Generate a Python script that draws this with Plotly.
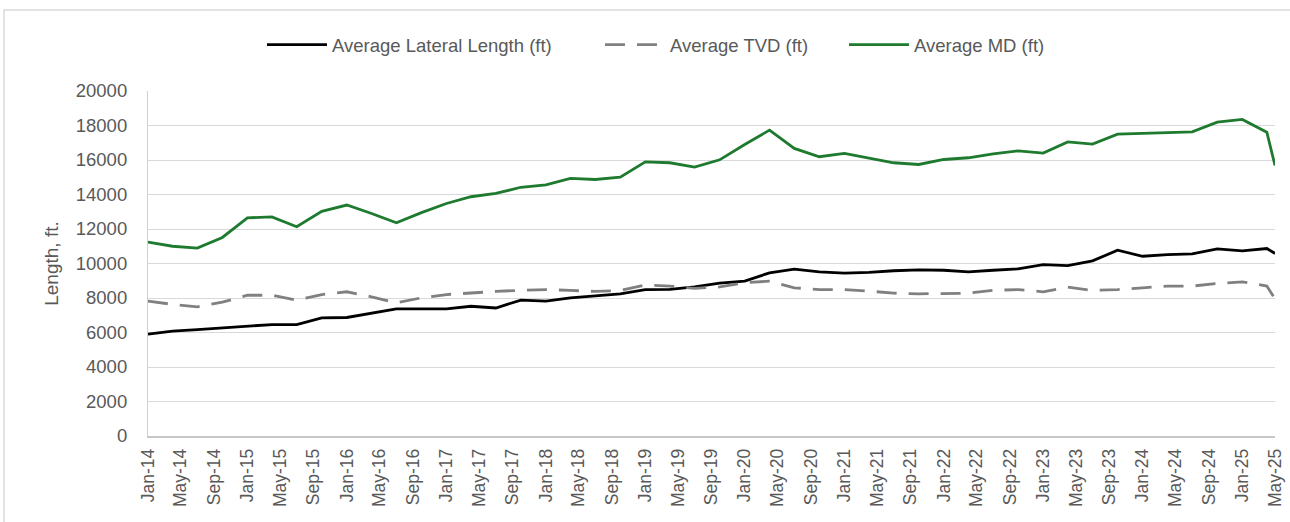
import pandas as pd
import plotly.graph_objects as go

# Quarterly well-geometry averages, Jan-2014 through Apr-2025, plus May-2025
dates = list(pd.date_range("2014-01-01", "2025-04-01", freq="3MS")) + [pd.Timestamp("2025-05-01")]

lateral_length = [
    5900, 6080, 6170, 6270, 6330, 6460, 6460, 6850, 6870, 7100,
    7370, 7370, 7370, 7520, 7420, 7880, 7820, 8010, 8110, 8240,
    8490, 8500, 8650, 8860, 8980, 9460, 9670, 9520, 9440, 9480,
    9580, 9630, 9610, 9520, 9610, 9690, 9940, 9880, 10150, 10770,
    10420, 10520, 10560, 10850, 10730, 10870, 10580,
]
tvd = [
    7820, 7630, 7490, 7760, 8160, 8160, 7870, 8200, 8360, 8070,
    7720, 8010, 8200, 8300, 8380, 8450, 8490, 8440, 8380, 8440,
    8760, 8690, 8560, 8640, 8880, 8980, 8590, 8490, 8490, 8400,
    8280, 8240, 8240, 8280, 8440, 8490, 8360, 8630, 8440, 8490,
    8590, 8690, 8690, 8840, 8940, 8690, 7950,
]
measured_depth = [
    11240, 11000, 10890, 11510, 12650, 12700, 12130, 13020, 13390, 12900,
    12360, 12950, 13480, 13870, 14060, 14420, 14560, 14930, 14870, 15000,
    15890, 15840, 15590, 16010, 16900, 17730, 16670, 16190, 16380, 16110,
    15840, 15740, 16030, 16130, 16360, 16530, 16400, 17050, 16920, 17500,
    17540, 17590, 17630, 18190, 18350, 17610, 15680,
]

# Axis ticks every four months
tick_dates = list(pd.date_range("2014-01-01", "2025-05-01", freq="4MS"))
tick_labels = [d.strftime("%b-%y") for d in tick_dates]
y_ticks = list(range(0, 20001, 2000))
y_labels = [str(v) for v in y_ticks]

label_font = "Liberation Sans, Arial, sans-serif"
text_grey = "#595959"

fig = go.Figure()
fig.add_trace(go.Scatter(
    x=dates, y=lateral_length, mode="lines", name="Average Lateral Length (ft)",
    line=dict(color="#000000", width=2.8), legend="legend",
))
fig.add_trace(go.Scatter(
    x=dates, y=tvd, mode="lines", name="Average TVD (ft)",
    line=dict(color="#808080", width=2.8, dash="20px,12px"), legend="legend2",
))
fig.add_trace(go.Scatter(
    x=dates, y=measured_depth, mode="lines", name="Average MD (ft)",
    line=dict(color="#1e7a2e", width=2.8), legend="legend3",
))


def legend_box(left_px):
    # one legend entry per box, placed along the top of the chart
    return dict(
        orientation="h", xref="container", yref="container",
        x=left_px / 1290, xanchor="left", y=1 - 45 / 522, yanchor="middle",
        font=dict(family=label_font, size=18.5, color=text_grey),
        bgcolor="rgba(0,0,0,0)", itemwidth=60,
    )


fig.update_layout(
    width=1290, height=522,
    margin=dict(l=148, r=15, t=91, b=86, autoexpand=False),
    paper_bgcolor="white", plot_bgcolor="white",
    showlegend=True,
    legend=legend_box(262),
    legend2=legend_box(600),
    legend3=legend_box(844),
    xaxis=dict(
        type="date",
        range=[tick_dates[0], tick_dates[-1]],
        tickmode="array", tickvals=tick_dates, ticktext=tick_labels,
        tickangle=-90,
        tickfont=dict(family=label_font, size=17.5, color=text_grey),
        showgrid=False, zeroline=False,
        showline=True, linecolor="#c8c8c8", linewidth=1.5,
        ticks="", ticklen=0, ticklabelstandoff=4,
    ),
    yaxis=dict(
        range=[0, 20000],
        tickmode="array", tickvals=y_ticks, ticktext=y_labels,
        tickfont=dict(family=label_font, size=18.5, color=text_grey),
        showgrid=True, gridcolor="#d9d9d9", gridwidth=1.2,
        zeroline=False,
        showline=True, linecolor="#d0d0d0", linewidth=1.2,
        ticks="", ticklen=0, ticklabelstandoff=16,
        title=dict(text="Length, ft.", font=dict(family=label_font, size=19, color=text_grey), standoff=12),
    ),
    shapes=[dict(
        type="rect", xref="paper", yref="paper",
        x0=(4 - 148) / 1127, x1=(1300 - 148) / 1127,
        y0=(436 - 530) / 345, y1=(436 - 10) / 345,
        line=dict(color="#d9d9d9", width=1.5), fillcolor="rgba(0,0,0,0)",
        layer="below",
    )],
)

fig.write_html("out.html")
